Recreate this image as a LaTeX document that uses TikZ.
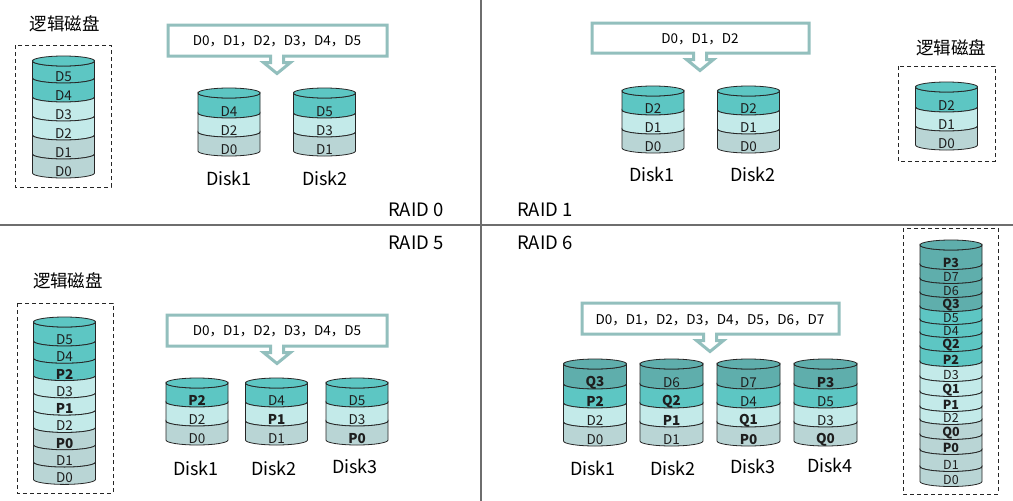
\documentclass[tikz,border=0pt]{standalone}
\usepackage{fontspec}
\setmainfont{Noto Sans CJK SC}
\definecolor{cDark}{HTML}{5FAEAC}
\definecolor{cTeal}{HTML}{5DC6C3}
\definecolor{cLight}{HTML}{C3EAE9}
\definecolor{cGray}{HTML}{B9D5D5}
\definecolor{cCall}{HTML}{92BFBD}
\definecolor{cDiv}{HTML}{6E6E6E}
\definecolor{cTxt}{HTML}{1E1E1E}
\tikzset{
  band/.style={draw=black!85, line width=0.8pt},
  blab/.style={inner sep=0pt, text=cTxt, font=\fontsize{13.5}{14}\selectfont},
  slab/.style={inner sep=0pt, text=cTxt, font=\fontsize{12.5}{13}\selectfont},
  disklab/.style={inner sep=0pt, text=black, font=\fontsize{18}{20}\selectfont},
  raidlab/.style={inner sep=0pt, text=black, font=\fontsize{18.5}{20}\selectfont},
  titlelab/.style={inner sep=0pt, text=black, font=\fontsize{17.5}{19}\selectfont},
  calltxt/.style={inner sep=0pt, text=black, font=\fontsize{13.5}{15}\selectfont},
  callout/.style={draw=cCall, line width=3pt, line join=miter, fill=white},
  dbox/.style={draw=black!85, line width=1pt, dash pattern=on 4pt off 3pt},
  divider/.style={draw=cDiv, line width=1.5pt}
}
\def\ry{5}
% #1 name, #2 cx, #3 y of top ellipse centre, #4 rx, #5 top colour, #6 list ybottom/colour/label, #7 label style
\newcommand\mycyl[7]{%
  \xdef\prevy{#3}%
  \foreach \yb/\c/\t in {#6} {%
    \filldraw[band, fill=\c] (#2-#4,\prevy) -- (#2-#4,\yb)
      arc[start angle=180, end angle=0, x radius=#4, y radius=\ry]
      -- (#2+#4,\prevy)
      arc[start angle=0, end angle=180, x radius=#4, y radius=\ry] -- cycle;
    \xdef\prevy{\yb}%
  }%
  \filldraw[band, fill=#5] (#2,#3) ellipse[x radius=#4, y radius=\ry];
  \foreach \yb/\c/\t [count=\i] in {#6} {%
    \node[#7] (#1-\i) at (#2,\yb-1.5) {\t};
  }%
}
% #1 x1, #2 y1, #3 x2, #4 y2, #5 arrow x
\newcommand\mycallout[5]{%
  \draw[callout] (#1,#2) -- (#3,#2) -- (#3,#4) -- (#5+6.5,#4) -- (#5+6.5,#4+6.5)
    -- (#5+13.5,#4+6.5) -- (#5,#4+17.5) -- (#5-13.5,#4+6.5) -- (#5-6.5,#4+6.5)
    -- (#5-6.5,#4) -- (#1,#4) -- cycle;
}
\begin{document}
\begin{tikzpicture}[x=1pt, y=-1pt]
\useasboundingbox (0,0) rectangle (1013,501);
\fill[white] (0,0) rectangle (1013,501);

% dividers
\draw[divider] (0,225) -- (1013,225);
\draw[divider] (481,0) -- (481,501);

% RAID labels
\node[raidlab] (r0) at (416,210) {RAID 0};
\node[raidlab] (r1) at (545,210) {RAID 1};
\node[raidlab] (r5) at (416,243) {RAID 5};
\node[raidlab] (r6) at (545,243) {RAID 6};

% ================= RAID 0 =================
\node[titlelab] (t0) at (65,24) {逻辑磁盘};
\draw[dbox] (15,45) rectangle (111,187);
\mycyl{l0}{63.5}{61}{31}{cTeal}{78/cTeal/D5, 97/cTeal/D4, 116/cLight/D3, 135/cLight/D2, 154/cGray/D1, 173/cGray/D0}{blab}
\mycallout{168}{25}{387}{56}{277}
\node[calltxt] (c0) at (277,41) {D0，D1，D2，D3，D4，D5};
\mycyl{a1}{229}{93}{31}{cTeal}{113/cTeal/D4, 132/cLight/D2, 151/cGray/D0}{blab}
\mycyl{a2}{324.5}{93}{31}{cTeal}{113/cTeal/D5, 132/cLight/D3, 151/cGray/D1}{blab}
\node[disklab] (a1l) at (229,178) {Disk1};
\node[disklab] (a2l) at (325,178) {Disk2};

% ================= RAID 1 =================
\mycallout{592}{23}{809}{53}{700}
\node[calltxt] (c1) at (700,39) {D0，D1，D2};
\mycyl{b1}{653}{91}{31}{cTeal}{110/cTeal/D2, 129/cLight/D1, 148/cGray/D0}{blab}
\mycyl{b2}{748.5}{91}{31}{cTeal}{110/cTeal/D2, 129/cLight/D1, 148/cGray/D0}{blab}
\node[disklab] (b1l) at (652,174) {Disk1};
\node[disklab] (b2l) at (753,174) {Disk2};
\node[titlelab] (t1) at (951,48) {逻辑磁盘};
\draw[dbox] (898,66) rectangle (995,161);
\mycyl{l1}{946.5}{87}{31}{cTeal}{107/cTeal/D2, 126/cLight/D1, 145/cGray/D0}{blab}

% ================= RAID 5 =================
\node[titlelab] (t5) at (68,281) {逻辑磁盘};
\draw[dbox] (17,303) rectangle (113,493);
\mycyl{l5}{64.5}{322}{31}{cTeal}{341/cTeal/D5, 358.3/cTeal/D4, 375.6/cTeal/\textbf{P2}, 392.9/cLight/D3, 410.2/cLight/\textbf{P1}, 427.5/cLight/D2, 444.8/cGray/\textbf{P0}, 462.1/cGray/D1, 479.4/cGray/D0}{blab}
\mycallout{167}{315}{387}{346}{277}
\node[calltxt] (c5) at (277,331) {D0，D1，D2，D3，D4，D5};
\mycyl{e1}{197}{383}{31}{cTeal}{402/cTeal/\textbf{P2}, 421/cLight/D2, 440/cGray/D0}{blab}
\mycyl{e2}{276.5}{383}{31}{cTeal}{402/cTeal/D4, 421/cLight/\textbf{P1}, 440/cGray/D1}{blab}
\mycyl{e3}{357}{383}{31}{cTeal}{402/cTeal/D5, 421/cLight/D3, 440/cGray/\textbf{P0}}{blab}
\node[disklab] (e1l) at (196,468) {Disk1};
\node[disklab] (e2l) at (274,468) {Disk2};
\node[disklab] (e3l) at (355,466) {Disk3};

% ================= RAID 6 =================
\mycallout{582}{303}{839}{334}{710}
\node[calltxt] (c6) at (710,320) {D0，D1，D2，D3，D4，D5，D6，D7};
\mycyl{f1}{595}{364}{31.5}{cDark}{384/cDark/\textbf{Q3}, 403/cTeal/\textbf{P2}, 422/cLight/D2, 441/cGray/D0}{blab}
\mycyl{f2}{671.5}{364}{31.5}{cDark}{384/cDark/D6, 403/cTeal/\textbf{Q2}, 422/cLight/\textbf{P1}, 441/cGray/D1}{blab}
\mycyl{f3}{748.5}{364}{31.5}{cDark}{384/cDark/D7, 403/cTeal/D4, 422/cLight/\textbf{Q1}, 441/cGray/\textbf{P0}}{blab}
\mycyl{f4}{825.5}{364}{31.5}{cDark}{384/cDark/\textbf{P3}, 403/cTeal/D5, 422/cLight/D3, 441/cGray/\textbf{Q0}}{blab}
\node[disklab] (f1l) at (593,468) {Disk1};
\node[disklab] (f2l) at (673,468) {Disk2};
\node[disklab] (f3l) at (753,466) {Disk3};
\node[disklab] (f4l) at (830,465) {Disk4};
\draw[dbox] (903,228) rectangle (998,494);
\mycyl{l6}{951}{245}{31}{cDark}{264.5/cDark/\textbf{P3}, 278.5/cDark/D7, 292.5/cDark/D6, 306.5/cDark/\textbf{Q3}, 319.5/cTeal/D5, 332.5/cTeal/D4, 346.5/cTeal/\textbf{Q2}, 361.5/cTeal/\textbf{P2}, 376.5/cLight/D3, 391.5/cLight/\textbf{Q1}, 406.5/cLight/\textbf{P1}, 419.5/cLight/D2, 434.5/cGray/\textbf{Q0}, 449.5/cGray/\textbf{P0}, 466.5/cGray/D1, 481.5/cGray/D0}{slab}
\end{tikzpicture}
\end{document}
